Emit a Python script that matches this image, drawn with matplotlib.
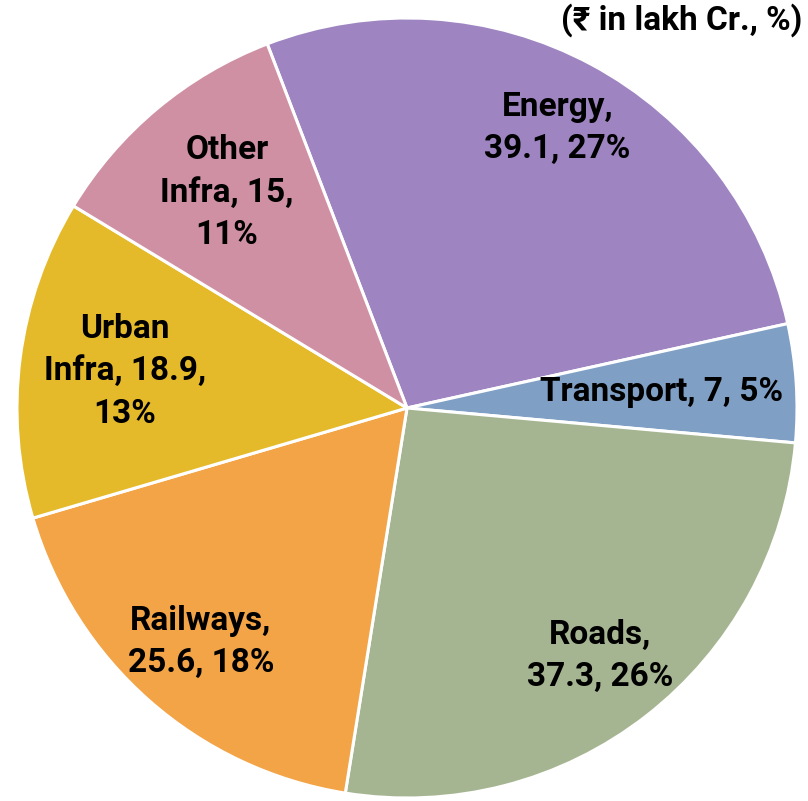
import numpy as np
import matplotlib
matplotlib.use("Agg")
import matplotlib.pyplot as plt

categories = ["Energy", "Transport", "Roads", "Railways", "Urban Infra", "Other Infra"]
values = [39.1, 7, 37.3, 25.6, 18.9, 15]
label_texts = ["Energy,\n39.1, 27%", "Transport, 7, 5%", "Roads,\n37.3, 26%",
               "Railways,\n25.6, 18%", "Urban\nInfra, 18.9,\n13%", "Other\nInfra, 15,\n11%"]
colors = ["#9E85C2", "#7F9FC5", "#A6B591", "#F2A446", "#E5BA2A", "#D090A4"]
label_dist = [0.815, 0.654, 0.806, 0.80, 0.73, 0.72]

fams = ["Roboto", "DejaVu Sans"]

fig = plt.figure(figsize=(8.08, 8.01), dpi=100)
ax = fig.add_axes([17/808, 3/801, 780/808, 780/801])
wedges, _ = ax.pie(values, colors=colors, startangle=111, counterclock=False,
                   wedgeprops=dict(edgecolor="white", linewidth=2.2))
ax.set_xlim(-1, 1); ax.set_ylim(-1, 1); ax.set_aspect("equal")
ax.axis("off")

for w, txt, d in zip(wedges, label_texts, label_dist):
    ang = np.deg2rad((w.theta1 + w.theta2) / 2)
    ax.text(d*np.cos(ang), d*np.sin(ang), txt, ha="center", va="center",
            fontsize=24, fontweight="bold", family=fams, linespacing=1.42, color="black")

fig.text(802/808, 1 - 20/801, "(₹ in lakh Cr., %)", ha="right", va="center",
         fontsize=24, fontweight="bold", family=fams)

fig.savefig("out.png", dpi=100)
